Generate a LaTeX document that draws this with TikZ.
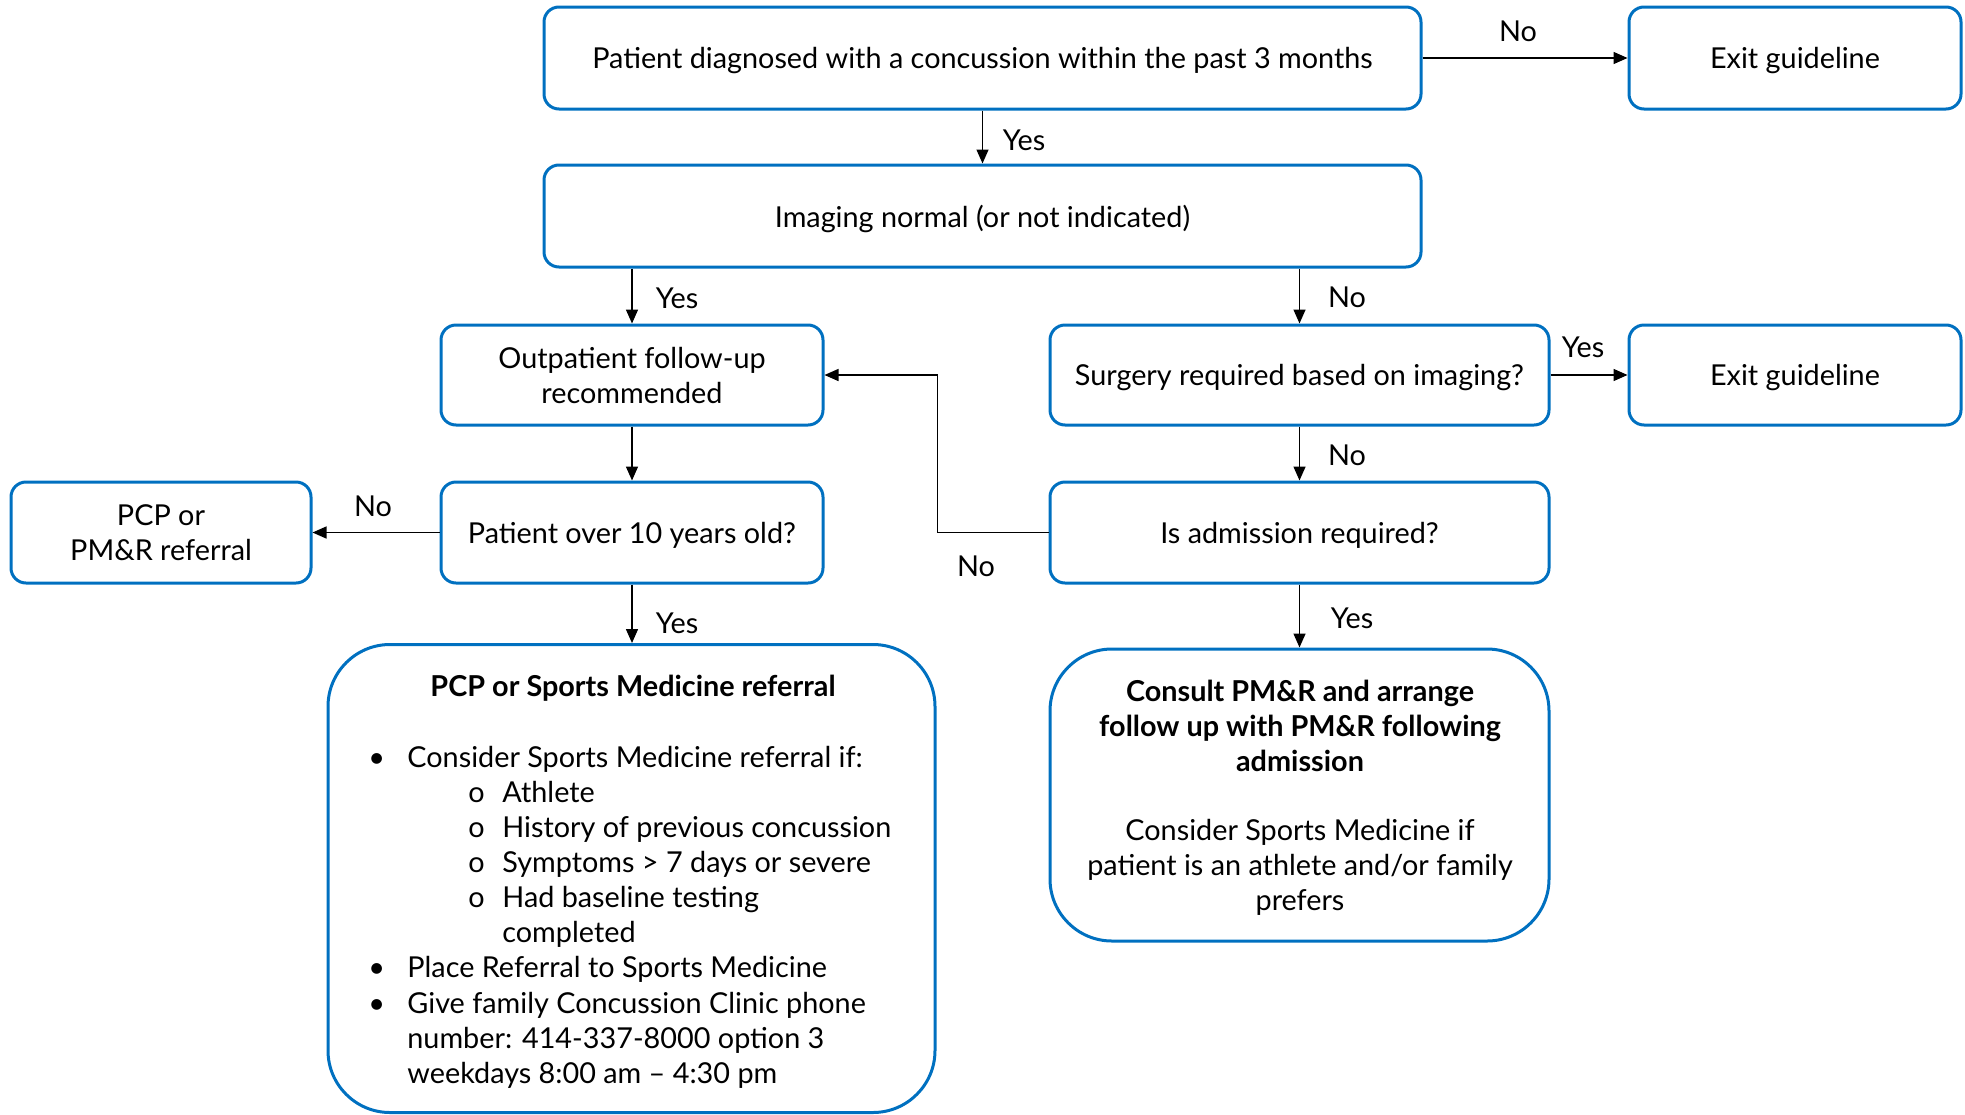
\documentclass[tikz,border=0pt]{standalone}
\usepackage{fontspec}
\setmainfont{Lato}
\usetikzlibrary{arrows.meta}
\definecolor{boxblue}{HTML}{0070C0}
\newcommand{\fsz}{\fontsize{14.4}{17.5}\selectfont}
\newcommand{\dn}[1]{\raisebox{-1.3pt}[\height][\depth]{#1}}
\tikzset{
  box/.style={draw=boxblue, line width=1.5pt, rounded corners=7.5pt, inner sep=0pt, align=center, font=\fsz},
  bigbox/.style={box, rounded corners=31pt},
  lbl/.style={inner sep=0pt, font=\fsz},
  txt/.style={inner sep=0pt, anchor=base west, font=\fsz},
  conn/.style={line width=0.75pt, -{Triangle[length=7pt,width=6pt]}}
}
\begin{document}
\begin{tikzpicture}[x=0.5pt,y=-0.5pt]
\useasboundingbox (0,0) rectangle (1965,1114);
% boxes
\node[box, minimum width=438.5pt, minimum height=51pt] (top) at (982.5,58) {\dn{Patient diagnosed with a concussion within the past 3 months}};
\node[box, minimum width=166pt, minimum height=51pt] (exit1) at (1795,58) {\dn{Exit guideline}};
\node[box, minimum width=438.5pt, minimum height=51pt] (img) at (982.5,216) {\dn{Imaging normal (or not indicated)}};
\node[box, minimum width=191pt, minimum height=50pt] (outp) at (632,375) {Outpatient follow-up\\recommended};
\node[box, minimum width=249.5pt, minimum height=50pt] (surg) at (1299.5,375) {\dn{Surgery required based on imaging?}};
\node[box, minimum width=166pt, minimum height=50pt] (exit2) at (1795,375) {\dn{Exit guideline}};
\node[box, minimum width=150pt, minimum height=50.5pt] (pcp) at (161,532.5) {PCP or\\PM\&R referral};
\node[box, minimum width=191pt, minimum height=50.5pt] (over) at (632,532.5) {\dn{Patient over 10 years old?}};
\node[box, minimum width=249.5pt, minimum height=50.5pt] (adm) at (1299.5,532.5) {\dn{Is admission required?}};
\node[bigbox, minimum width=303.5pt, minimum height=234pt] (sports) at (631.5,878.5) {};
\node[bigbox, minimum width=249.5pt, minimum height=146pt] (consult) at (1299.5,795) {};
% sports box text
\node[lbl, font=\fsz\bfseries] (stitle) at (633,688) {PCP or Sports Medicine referral};
\node[txt] (b1) at (368,767) {•};
\node[txt] (t1) at (407,767) {Consider Sports Medicine referral if:};
\node[txt] (c1) at (468,802) {o};
\node[txt] (t2) at (502,802) {Athlete};
\node[txt] (c2) at (468,837) {o};
\node[txt] (t3) at (502,837) {History of previous concussion};
\node[txt] (c3) at (468,872) {o};
\node[txt] (t4) at (502,872) {Symptoms > 7 days or severe};
\node[txt] (c4) at (468,907) {o};
\node[txt] (t5) at (502,907) {Had baseline testing};
\node[txt] (t6) at (502,942) {completed};
\node[txt] (b2) at (368,977) {•};
\node[txt] (t7) at (407,977) {Place Referral to Sports Medicine};
\node[txt] (b3) at (368,1013) {•};
\node[txt] (t8) at (407,1013) {Give family Concussion Clinic phone};
\node[txt] (t9) at (407,1048) {number: 414-337-8000 option 3};
\node[txt] (t10) at (407,1083) {weekdays 8:00 am – 4:30 pm};
% consult text
\node[lbl, align=center, font=\fsz\bfseries] (ctitle) at (1300,726) {Consult PM\&R and arrange\\follow up with PM\&R following\\admission};
\node[lbl, align=center] (cbody) at (1300,867) {Consider Sports Medicine if\\patient is an athlete and/or family\\prefers};
% connectors
\draw[conn] (top.south) -- (img.north);
\draw[conn] (top.east) -- (exit1.west);
\draw[conn] (outp.north |- img.south) -- (outp.north);
\draw[conn] (surg.north |- img.south) -- (surg.north);
\draw[conn] (surg.east) -- (exit2.west);
\draw[conn] (surg.south) -- (adm.north);
\coordinate (elbow) at (937.5,375);
\draw[conn] (adm.west) -| (elbow) -- (outp.east);
\draw[conn] (outp.south) -- (over.north);
\draw[conn] (over.west) -- (pcp.east);
\draw[conn] (over.south) -- (sports.north -| over.south);
\draw[conn] (adm.south) -- (consult.north);
% labels
\node[lbl] (l1) at (1024,140) {Yes};
\node[lbl] (l2) at (1518,31) {No};
\node[lbl] (l3) at (677,298) {Yes};
\node[lbl] (l4) at (1347,297) {No};
\node[lbl] (l5) at (1583,347) {Yes};
\node[lbl] (l6) at (1347,455) {No};
\node[lbl] (l7) at (976,566) {No};
\node[lbl] (l8) at (373,506) {No};
\node[lbl] (l9) at (677,623) {Yes};
\node[lbl] (l10) at (1352,618) {Yes};
\end{tikzpicture}
\end{document}
